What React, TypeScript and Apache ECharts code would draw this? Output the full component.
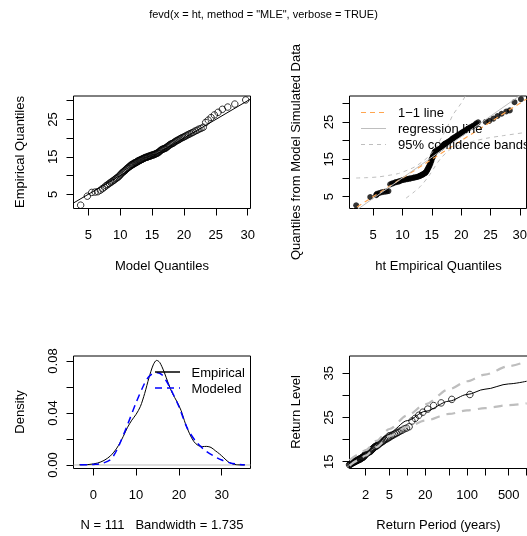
import React, { useEffect, useRef } from "react";
import * as echarts from "echarts";

const FONT = '"Liberation Sans", Arial, Helvetica, sans-serif';
const TITLE = 'fevd(x = ht, method = "MLE", verbose = TRUE)';

// sorted observed data (ht)
const empirical = [
  2.1, 4.5, 5.5, 5.6, 5.7, 6.1, 6.5, 6.9, 7.3, 7.6,
  7.9, 8.2, 8.4, 8.7, 8.9, 9.2, 9.4, 9.6, 9.9, 10.2,
  10.5, 10.8, 11.0, 11.2, 11.4, 11.7, 11.9, 12.1, 12.3, 12.5,
  12.7, 12.9, 13.0, 13.1, 13.3, 13.4, 13.5, 13.6, 13.8, 13.9,
  14.0, 14.1, 14.2, 14.3, 14.4, 14.5, 14.6, 14.7, 14.8, 14.9,
  14.9, 15.0, 15.1, 15.2, 15.2, 15.3, 15.4, 15.5, 15.5, 15.6,
  15.7, 15.8, 15.9, 16.0, 16.1, 16.3, 16.5, 16.7, 16.9, 17.0,
  17.1, 17.2, 17.3, 17.4, 17.6, 17.8, 18.0, 18.2, 18.4, 18.5,
  18.6, 18.8, 19.0, 19.2, 19.4, 19.5, 19.7, 19.9, 20.1, 20.2,
  20.4, 20.6, 20.8, 21.0, 21.2, 21.4, 21.6, 21.9, 22.1, 22.4,
  22.6, 22.9, 24.2, 24.8, 25.5, 26.2, 26.9, 27.7, 28.3, 29.1,
  30.2,
];

// fitted GEV quantiles at the plotting positions
const modelQuantiles = [
  3.80, 4.85, 5.54, 6.07, 6.50, 6.88, 7.21, 7.52, 7.79, 8.05,
  8.29, 8.52, 8.73, 8.94, 9.13, 9.32, 9.50, 9.68, 9.85, 10.02,
  10.18, 10.34, 10.50, 10.65, 10.80, 10.94, 11.09, 11.23, 11.37, 11.51,
  11.64, 11.77, 11.91, 12.04, 12.17, 12.30, 12.43, 12.56, 12.69, 12.81,
  12.94, 13.06, 13.19, 13.31, 13.44, 13.56, 13.68, 13.80, 13.93, 14.05,
  14.18, 14.30, 14.42, 14.54, 14.67, 14.79, 14.91, 15.04, 15.17, 15.30,
  15.42, 15.55, 15.68, 15.81, 15.94, 16.08, 16.21, 16.34, 16.48, 16.62,
  16.76, 16.90, 17.04, 17.18, 17.32, 17.47, 17.62, 17.78, 17.93, 18.09,
  18.25, 18.41, 18.58, 18.75, 18.93, 19.11, 19.29, 19.48, 19.67, 19.87,
  20.08, 20.29, 20.51, 20.74, 20.98, 21.22, 21.48, 21.76, 22.05, 22.35,
  22.68, 23.03, 23.41, 23.81, 24.26, 24.77, 25.35, 26.03, 26.87, 27.98,
  29.69,
];

// sorted sample simulated from the fitted model
const simulatedQuantiles = [
  2.7, 4.9, 5.4, 5.6, 5.8, 6.0, 6.2, 6.3, 6.4, 6.5,
  8.3, 8.5, 8.6, 8.8, 8.9, 9.0, 9.1, 9.2, 9.4, 9.5,
  9.6, 9.7, 9.8, 9.85, 9.9, 10.0, 10.1, 10.15, 10.2, 10.3,
  10.4, 10.5, 10.6, 10.7, 10.8, 10.9, 11.0, 11.1, 11.3, 11.4,
  11.6, 11.8, 12.1, 12.4, 12.7, 13.0, 13.3, 13.7, 14.1, 14.5,
  14.8, 15.1, 15.4, 15.7, 16.0, 16.3, 16.6, 16.8, 17.0, 17.1,
  17.2, 17.3, 17.4, 17.5, 17.6, 17.8, 18.0, 18.3, 18.6, 18.8,
  19.0, 19.1, 19.2, 19.3, 19.5, 19.7, 19.9, 20.1, 20.3, 20.5,
  20.6, 20.8, 21.0, 21.2, 21.4, 21.5, 21.7, 21.9, 22.1, 22.2,
  22.4, 22.6, 22.8, 23.0, 23.2, 23.4, 23.6, 23.8, 24.0, 24.3,
  24.6, 24.9, 25.0, 25.3, 25.9, 26.6, 27.2, 27.8, 28.1, 30.3,
  31.1,
];

// 95% confidence bands of the qq-plot
const bandUpperX = [2.1, 4.0, 5.9, 8.0, 9.3, 11.0, 12.1, 13.5, 14.4, 15.6, 16.9, 17.8, 18.6, 20.0, 21.0];
const bandUpperY = [10.0, 10.1, 10.3, 10.8, 11.2, 12.2, 13.0, 14.5, 15.7, 18.0, 21.5, 24.2, 26.9, 30.0, 32.8];
const bandLowerX = [10.6, 12.0, 13.2, 14.7, 15.5, 16.5, 18.0, 19.7, 22.0, 24.2, 27.0, 31.0];
const bandLowerY = [4.6, 6.3, 8.0, 11.0, 13.0, 15.2, 17.5, 18.8, 19.8, 20.6, 21.3, 22.2];
const regIntercept = -0.95;
const regSlope = 1.1;

// density panel
const empDensX = [-3.3, -1, 1, 2.5, 4, 5.5, 7, 8, 9, 10, 11, 12, 13, 14, 14.8, 15.5, 16.5, 17.5, 18.5, 19.5, 20.5, 21.5, 22.5, 23.5, 24.5, 25.5, 26.5, 27.5, 28.5, 29.5, 30.5, 31.5, 32.5, 33.5, 35.4];
const empDensY = [0.0001, 0.0004, 0.0015, 0.0035, 0.007, 0.013, 0.022, 0.029, 0.0345, 0.039, 0.045, 0.055, 0.067, 0.077, 0.0805, 0.079, 0.072, 0.063, 0.055, 0.049, 0.042, 0.032, 0.024, 0.018, 0.015, 0.0142, 0.0143, 0.0135, 0.011, 0.0085, 0.0055, 0.0025, 0.0009, 0.0002, 0.00001];
const modDensX = [-3.1, -1, 0, 2, 4, 5, 6, 8, 10, 12, 13, 14, 15, 16, 17, 18, 20, 22, 24, 26, 28, 30, 32, 34, 35.4];
const modDensY = [0.0001, 0.0002, 0.0004, 0.0012, 0.004, 0.0085, 0.015, 0.031, 0.048, 0.063, 0.068, 0.0705, 0.071, 0.0695, 0.065, 0.059, 0.045, 0.028, 0.018, 0.0115, 0.0072, 0.0038, 0.0016, 0.0005, 0.0002];

// return level panel
const rlPeriod = [1.07, 1.5, 2, 3, 5, 10, 20, 50, 100, 200, 500, 1000];
const rlLevel = [14.55, 15.9, 17.0, 19.0, 21.6, 24.3, 26.4, 28.7, 30.2, 31.4, 32.6, 33.2];
const rlUpper = [15.3, 16.6, 17.6, 19.7, 22.4, 25.5, 28.0, 31.4, 33.2, 34.7, 36.6, 37.7];
const rlLower = [14.1, 15.3, 16.4, 18.3, 20.8, 22.9, 24.3, 25.8, 26.6, 27.1, 27.8, 28.2];

// axis ticks and labels
const ticks5to30 = [5, 10, 15, 20, 25, 30];
const labels5to25 = [5, 15, 25];
const densXTicks = [0, 10, 20, 30];
const densYTicks = [0, 0.02, 0.04, 0.06, 0.08];
const densYLabels = [0, 0.04, 0.08];
const rlXTicks = [2, 5, 10, 20, 50, 100, 200, 500, 1000];
const rlXLabels = [2, 5, 20, 100, 500];
const rlYTicks = [15, 20, 25, 30, 35];
const rlYLabels = [15, 25, 35];

const LIM = {
  p1x: [2.679, 30.44], p1y: [1.21, 31.255],
  p2x: [0.96, 31.15], p2y: [1.84, 31.95],
  p3x: [-4.63, 36.73], p3y: [-0.0027, 0.08385],
  p4x: [1.07, 1032], p4y: [13.46, 38.91],
};

const zip = (a: number[], b: number[]) => a.map((v, i) => [v, b[i]]);

function axis(kind: "x" | "y", gridIndex: number, lim: number[], ticks: number[], labels: number[], fmt?: (v: number) => string, type = "value") {
  const isY = kind === "y";
  return {
    type,
    gridIndex,
    min: lim[0],
    max: lim[1],
    position: isY ? "left" : "bottom",
    axisLine: { show: false, onZero: false },
    splitLine: { show: false },
    axisTick: { show: true, length: 7, lineStyle: { color: "#000", width: 1 }, customValues: ticks },
    axisLabel: {
      customValues: labels,
      color: "#000",
      fontSize: 13,
      fontFamily: FONT,
      margin: isY ? 15 : 19,
      rotate: isY ? 90 : 0,
      formatter: fmt || ((v: number) => String(Math.round(v * 1000) / 1000)),
    },
  };
}

const grid = (left: number, top: number, width: number) => ({
  left, top, width, height: 112.5, show: true, borderColor: "#000", borderWidth: 1, backgroundColor: "transparent",
});

const txt = (text: string, x: number, y: number, size: number, rot = 0, align = "center") => ({
  type: "text",
  x, y, rotation: rot, z: 10,
  style: { text, x: 0, y: 0, font: `${size}px ${FONT}`, fill: "#000", textAlign: align, textVerticalAlign: "middle", align, verticalAlign: "middle" },
});

const seg = (x1: number, y1: number, x2: number, y2: number, stroke: string, lineWidth: number, lineDash?: number[]) => ({
  type: "line", z: 10,
  shape: { x1, y1, x2, y2 },
  style: { stroke, lineWidth, lineDash: lineDash || null },
});

export default function App() {
  const ref = useRef<HTMLDivElement>(null);
  useEffect(() => {
    document.body.style.margin = "0";
    document.body.style.overflow = "hidden";
    const chart = echarts.init(ref.current!, null, { renderer: "svg", width: 530, height: 536 });
    const n = empirical.length;
    const rlPoints = empirical
      .map((v, i) => [-1 / Math.log((i + 1) / (n + 1)), v])
      .filter((d) => d[0] >= LIM.p4x[0]);
    const openCircle = { color: "rgba(0,0,0,0)", borderColor: "#000", borderWidth: 1 };
    const GRAY = "#BEBEBE";
    const option: any = {
      animation: false,
      grid: [grid(73.5, 96, 177), grid(349.5, 96, 178), grid(73.5, 356, 177), grid(349.5, 356, 178)],
      xAxis: [
        axis("x", 0, LIM.p1x, ticks5to30, ticks5to30),
        axis("x", 1, LIM.p2x, ticks5to30, ticks5to30),
        axis("x", 2, LIM.p3x, densXTicks, densXTicks),
        { ...axis("x", 3, LIM.p4x, rlXTicks, rlXLabels, (v: number) => String(Math.round(v)), "log"), logBase: 10 },
      ],
      yAxis: [
        axis("y", 0, LIM.p1y, ticks5to30, labels5to25),
        axis("y", 1, LIM.p2y, ticks5to30, labels5to25),
        axis("y", 2, LIM.p3y, densYTicks, densYLabels, (v: number) => v.toFixed(2)),
        axis("y", 3, LIM.p4y, rlYTicks, rlYLabels),
      ],
      series: [
        // panel 1
        {
          type: "scatter", xAxisIndex: 0, yAxisIndex: 0, symbol: "circle", symbolSize: 6.5,
          itemStyle: openCircle, data: zip(modelQuantiles, empirical),
        },
        {
          type: "line", xAxisIndex: 0, yAxisIndex: 0, symbol: "none", lineStyle: { color: "#000", width: 1 },
          data: [[LIM.p1x[0], LIM.p1x[0]], [LIM.p1x[1], LIM.p1x[1]]],
        },
        // panel 2
        {
          type: "scatter", xAxisIndex: 1, yAxisIndex: 1, symbol: "circle", symbolSize: 6,
          itemStyle: { color: "#000" }, data: zip(empirical, simulatedQuantiles),
        },
        {
          type: "line", xAxisIndex: 1, yAxisIndex: 1, symbol: "none", lineStyle: { color: "#FFA54F", width: 1.2, type: [5, 4] },
          data: [[LIM.p2x[0], LIM.p2x[0]], [LIM.p2x[1], LIM.p2x[1]]],
        },
        {
          type: "line", xAxisIndex: 1, yAxisIndex: 1, symbol: "none", lineStyle: { color: GRAY, width: 1 },
          data: LIM.p2x.map((x) => [x, regIntercept + regSlope * x]),
        },
        {
          type: "line", xAxisIndex: 1, yAxisIndex: 1, symbol: "none", smooth: 0.3,
          lineStyle: { color: GRAY, width: 1, type: [4, 4] }, data: zip(bandUpperX, bandUpperY),
        },
        {
          type: "line", xAxisIndex: 1, yAxisIndex: 1, symbol: "none", smooth: 0.3,
          lineStyle: { color: GRAY, width: 1, type: [4, 4] }, data: zip(bandLowerX, bandLowerY),
        },
        // panel 3
        {
          type: "line", xAxisIndex: 2, yAxisIndex: 2, symbol: "none", lineStyle: { color: GRAY, width: 1 },
          data: [[LIM.p3x[0], 0], [LIM.p3x[1], 0]],
        },
        {
          type: "line", xAxisIndex: 2, yAxisIndex: 2, symbol: "none", smooth: 0.3,
          lineStyle: { color: "#000", width: 1 }, data: zip(empDensX, empDensY),
        },
        {
          type: "line", xAxisIndex: 2, yAxisIndex: 2, symbol: "none", smooth: 0.3,
          lineStyle: { color: "#0000FF", width: 1.5, type: [7, 5] }, data: zip(modDensX, modDensY),
        },
        // panel 4
        {
          type: "scatter", xAxisIndex: 3, yAxisIndex: 3, symbol: "circle", symbolSize: 6.5,
          itemStyle: openCircle, data: rlPoints,
        },
        {
          type: "line", xAxisIndex: 3, yAxisIndex: 3, symbol: "none", smooth: 0.3, smoothMonotone: "x",
          lineStyle: { color: "#000", width: 1 }, data: zip(rlPeriod, rlLevel),
        },
        {
          type: "line", xAxisIndex: 3, yAxisIndex: 3, symbol: "none", smooth: 0.3, smoothMonotone: "x",
          lineStyle: { color: GRAY, width: 2.2, type: [9, 7] }, data: zip(rlPeriod, rlUpper),
        },
        {
          type: "line", xAxisIndex: 3, yAxisIndex: 3, symbol: "none", smooth: 0.3, smoothMonotone: "x",
          lineStyle: { color: GRAY, width: 2.2, type: [9, 7] }, data: zip(rlPeriod, rlLower),
        },
      ],
      graphic: [
        txt(TITLE, 263.5, 14, 11),
        txt("Model Quantiles", 162, 265, 13),
        txt("Empirical Quantiles", 19.5, 152, 13, Math.PI / 2),
        txt("ht Empirical Quantiles", 438.5, 265, 13),
        txt("Quantiles from Model Simulated Data", 295.5, 152, 13, Math.PI / 2),
        txt("N = 111   Bandwidth = 1.735", 162, 524.5, 13),
        txt("Density", 19.5, 412, 13, Math.PI / 2),
        txt("Return Period (years)", 438.5, 524.5, 13),
        txt("Return Level", 295.5, 412, 13, Math.PI / 2),
        // legend panel 2
        seg(361, 112.5, 386, 112.5, "#FFA54F", 1.2, [5, 4]),
        seg(361, 128.5, 386, 128.5, GRAY, 1),
        seg(361, 144.5, 386, 144.5, GRAY, 1, [4, 4]),
        txt("1\u22121 line", 398, 112.5, 13, 0, "left"),
        txt("regression line", 398, 128.5, 13, 0, "left"),
        txt("95% confidence bands", 398, 144.5, 13, 0, "left"),
        // legend panel 3
        seg(155, 372, 180, 372, "#000", 1.5),
        seg(155, 388, 180, 388, "#0000FF", 1.5, [7, 5]),
        txt("Empirical", 191.5, 372.5, 13, 0, "left"),
        txt("Modeled", 191.5, 388.5, 13, 0, "left"),
      ],
    };
    chart.setOption(option);
    return () => chart.dispose();
  }, []);
  return <div ref={ref} style={{ position: "fixed", left: 0, top: 0, width: 530, height: 536 }} />;
}
